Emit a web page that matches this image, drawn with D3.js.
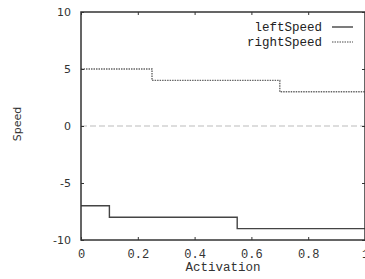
<!DOCTYPE html>
<html>
<head>
<meta charset="utf-8">
<script src="https://cdn.jsdelivr.net/npm/d3@7"></script>
<style>
  body { margin: 0; background: #fff; }
  svg { display: block; }
</style>
</head>
<body>
<div id="chart"></div>
<script>
// step data: [activation, speed], last point closes the step
const leftSpeed = [[0, -7], [0.1, -8], [0.55, -9], [1, -9]]
const rightSpeed = [[0, 5], [0.25, 4], [0.7, 3], [1, 3]]
const seriesNames = ['leftSpeed', 'rightSpeed']
const xTicks = [0, 0.2, 0.4, 0.6, 0.8, 1]
const yTicks = [-10, -5, 0, 5, 10]

const width = 365
const height = 279
const margin = {top: 12, right: 0, bottom: 39, left: 81}
const w = 365 - margin.left - margin.right
const h = height - margin.top - margin.bottom

const svg = d3.select('#chart').append('svg')
    .attr('width', width)
    .attr('height', height)

const g = svg.append('g')
    .attr('transform', `translate(${margin.left}, ${margin.top})`)

const xScale = d3.scaleLinear().domain([0, 1]).range([0, w])
const yScale = d3.scaleLinear().domain([-10, 10]).range([h, 0])

// zero line
g.append('line')
  .attr('x1', 0).attr('x2', w)
  .attr('y1', yScale(0)).attr('y2', yScale(0))
  .attr('stroke', '#bbb')
  .attr('stroke-width', 1.2)
  .attr('stroke-dasharray', '6,3')

const line = d3.line()
  .x(d => xScale(d[0]))
  .y(d => yScale(d[1]))
  .curve(d3.curveStepAfter)

g.append('path')
  .datum(rightSpeed)
  .attr('d', line)
  .attr('fill', 'none')
  .attr('stroke', '#666')
  .attr('stroke-width', 1.4)
  .attr('stroke-dasharray', '1.5,1')

g.append('path')
  .datum(leftSpeed)
  .attr('d', line)
  .attr('fill', 'none')
  .attr('stroke', '#444')
  .attr('stroke-width', 1.4)

// axes, gnuplot style ticks inside on all sides
const axisFont = 'Liberation Mono, monospace'

const xAxis = g.append('g')
  .attr('transform', `translate(0, ${h})`)
  .call(d3.axisBottom(xScale).tickValues(xTicks).tickSize(-3).tickPadding(9)
    .tickFormat(d => String(d)))
xAxis.select('.domain').remove()
xAxis.selectAll('text')
  .attr('font-family', axisFont)
  .attr('font-size', 12)
  .attr('fill', '#333')

g.append('g')
  .call(d3.axisTop(xScale).tickValues(xTicks).tickSize(-3).tickFormat(''))
  .select('.domain').remove()

const yAxis = g.append('g')
  .call(d3.axisLeft(yScale).tickValues(yTicks).tickSize(-3).tickPadding(10)
    .tickFormat(d => String(d)))
yAxis.select('.domain').remove()
yAxis.selectAll('text')
  .attr('font-family', 'DejaVu Sans, sans-serif')
  .attr('font-size', 11)
  .attr('fill', '#333')

g.append('g')
  .attr('transform', `translate(${w}, 0)`)
  .call(d3.axisRight(yScale).tickValues(yTicks).tickSize(-3).tickFormat(''))
  .select('.domain').remove()

g.selectAll('.tick line').attr('stroke', '#333')

// frame
g.append('rect')
  .attr('width', w).attr('height', h)
  .attr('fill', 'none')
  .attr('stroke', '#333')
  .attr('stroke-width', 1.5)

// legend
const legend = g.selectAll('.legend')
    .data(seriesNames)
  .enter()
    .append('g')
    .attr('transform', (d, i) => `translate(0, ${15 + i * 15})`)

legend.append('text')
  .attr('x', 241)
  .attr('dy', '0.35em')
  .attr('text-anchor', 'end')
  .attr('font-family', axisFont)
  .attr('font-size', 12.5)
  .attr('fill', '#222')
  .text(d => d)

legend.append('line')
  .attr('x1', 251).attr('x2', 272)
  .attr('stroke', (d, i) => i ? '#888' : '#444')
  .attr('stroke-width', 1.4)
  .attr('stroke-dasharray', (d, i) => i ? '1.5,1' : null)

// labels
svg.append('text')
  .attr('x', margin.left + w / 2)
  .attr('y', 271)
  .attr('text-anchor', 'middle')
  .attr('font-family', axisFont)
  .attr('font-size', 12.5)
  .attr('fill', '#333')
  .text('Activation')

svg.append('text')
  .attr('transform', 'translate(21, 124) rotate(-90)')
  .attr('text-anchor', 'middle')
  .attr('font-family', 'DejaVu Sans, sans-serif')
  .attr('font-size', 11)
  .attr('fill', '#333')
  .text('Speed')
</script>
</body>
</html>
